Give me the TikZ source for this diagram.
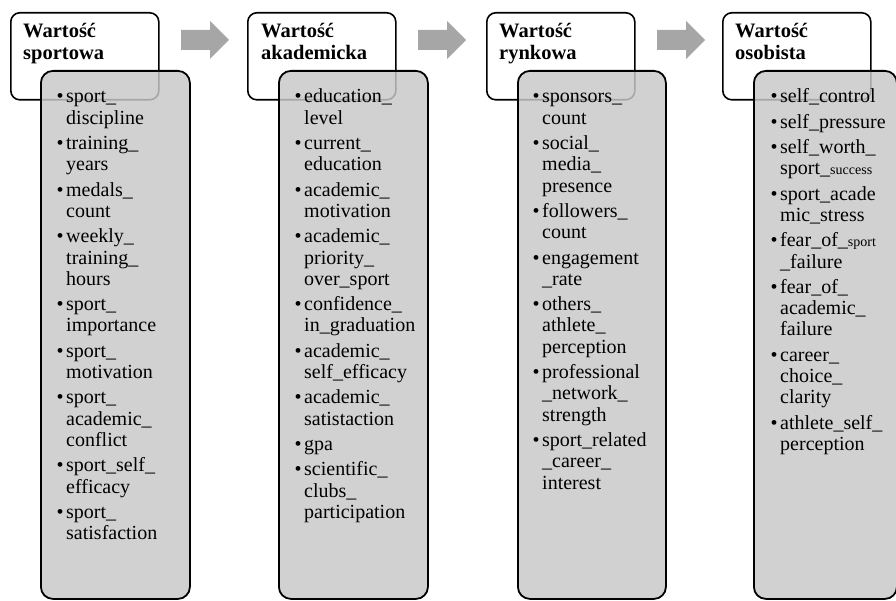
\documentclass[tikz,border=0pt]{standalone}
\usepackage{fontspec}
\setmainfont{Liberation Serif}
\newcommand\myb{\makebox[9pt][l]{\hspace*{-0.5pt}\textbullet}}
\newcommand\myc{\hspace*{9pt}}
\newcommand\mysm[1]{{\fontsize{14}{14}\selectfont #1}}
\definecolor{panelgray}{HTML}{C8C8C8}
\definecolor{arrowgray}{HTML}{A6A6A6}
\tikzset{
  hdr/.style={draw=black, line width=1.6pt, fill=white, rounded corners=9pt,
    minimum width=148pt, minimum height=87pt, anchor=north west, inner sep=0pt},
  panel/.style={draw=black, line width=1.8pt, fill=panelgray, fill opacity=0.83,
    draw opacity=1, rounded corners=12pt, minimum height=528pt,
    anchor=north west, inner sep=0pt},
  hdrtext/.style={anchor=base west, inner sep=0pt, text width=140pt, align=left,
    font=\bfseries\fontsize{20.5}{22}\selectfont},
  items/.style={anchor=base west, inner sep=0pt, text width=135pt, align=left,
    font=\fontsize{20}{21.3}\selectfont},
  blockarrow/.style={fill=arrowgray, draw=none}
}
\begin{document}
\begin{tikzpicture}[x=1pt,y=-1pt]
\useasboundingbox (0,0) rectangle (896,601);
% headers
\node[hdr] (h1) at (10,12) {};
\node[hdr] (h2) at (247,12) {};
\node[hdr] (h3) at (486,12) {};
\node[hdr] (h4) at (722,12) {};
% panels
\node[panel, minimum width=149pt] (p1) at (40,70) {};
\node[panel, minimum width=149pt] (p2) at (278,70) {};
\node[panel, minimum width=148pt] (p3) at (517,70) {};
\node[panel, minimum width=143pt] (p4) at (753,70) {};
% header texts
\node[hdrtext] (t1) at (23,38) {Wartość\\sportowa};
\node[hdrtext] (t2) at (261,38) {Wartość\\akademicka};
\node[hdrtext] (t3) at (499,38) {Wartość\\rynkowa};
\node[hdrtext] (t4) at (735,38) {Wartość\\osobista};
% item lists
\node[items] (l1) at (57,103) {%
\myb sport\_\\\myc discipline\\[4pt]
\myb training\_\\\myc years\\[4pt]
\myb medals\_\\\myc count\\[4pt]
\myb weekly\_\\\myc training\_\\\myc hours\\[4pt]
\myb sport\_\\\myc importance\\[4pt]
\myb sport\_\\\myc motivation\\[4pt]
\myb sport\_\\\myc academic\_\\\myc conflict\\[4pt]
\myb sport\_self\_\\\myc efficacy\\[4pt]
\myb sport\_\\\myc satisfaction};
\node[items] (l2) at (295,103) {%
\myb education\_\\\myc level\\[4pt]
\myb current\_\\\myc education\\[4pt]
\myb academic\_\\\myc motivation\\[4pt]
\myb academic\_\\\myc priority\_\\\myc over\_sport\\[4pt]
\myb confidence\_\\\myc in\_graduation\\[4pt]
\myb academic\_\\\myc self\_efficacy\\[4pt]
\myb academic\_\\\myc satistaction\\[4pt]
\myb gpa\\[4pt]
\myb scientific\_\\\myc clubs\_\\\myc participation};
\node[items] (l3) at (533,103) {%
\myb sponsors\_\\\myc count\\[4pt]
\myb social\_\\\myc media\_\\\myc presence\\[4pt]
\myb followers\_\\\myc count\\[4pt]
\myb engagement\\\myc \_rate\\[4pt]
\myb others\_\\\myc athlete\_\\\myc perception\\[4pt]
\myb professional\\\myc \_network\_\\\myc strength\\[4pt]
\myb sport\_related\\\myc \_career\_\\\myc interest};
\node[items] (l4) at (771,103) {%
\myb self\_control\\[4pt]
\myb self\_pressure\\[4pt]
\myb self\_worth\_\\\myc sport\_\mysm{success}\\[4pt]
\myb sport\_acade\\\myc mic\_stress\\[4pt]
\myb fear\_of\_\mysm{sport}\\\myc \_failure\\[4pt]
\myb fear\_of\_\\\myc academic\_\\\myc failure\\[4pt]
\myb career\_\\\myc choice\_\\\myc clarity\\[4pt]
\myb athlete\_self\_\\\myc perception};
% block arrows between headers
\coordinate (a1) at (181,0);
\coordinate (a2) at (418,0);
\coordinate (a3) at (657,0);
\foreach \a in {a1,a2,a3}{
  \fill[blockarrow, shift={(\a)}] (0,30) -- (29,30) -- (29,21) -- (48,40)
    -- (29,59) -- (29,50) -- (0,50) -- cycle;
}
\end{tikzpicture}
\end{document}
